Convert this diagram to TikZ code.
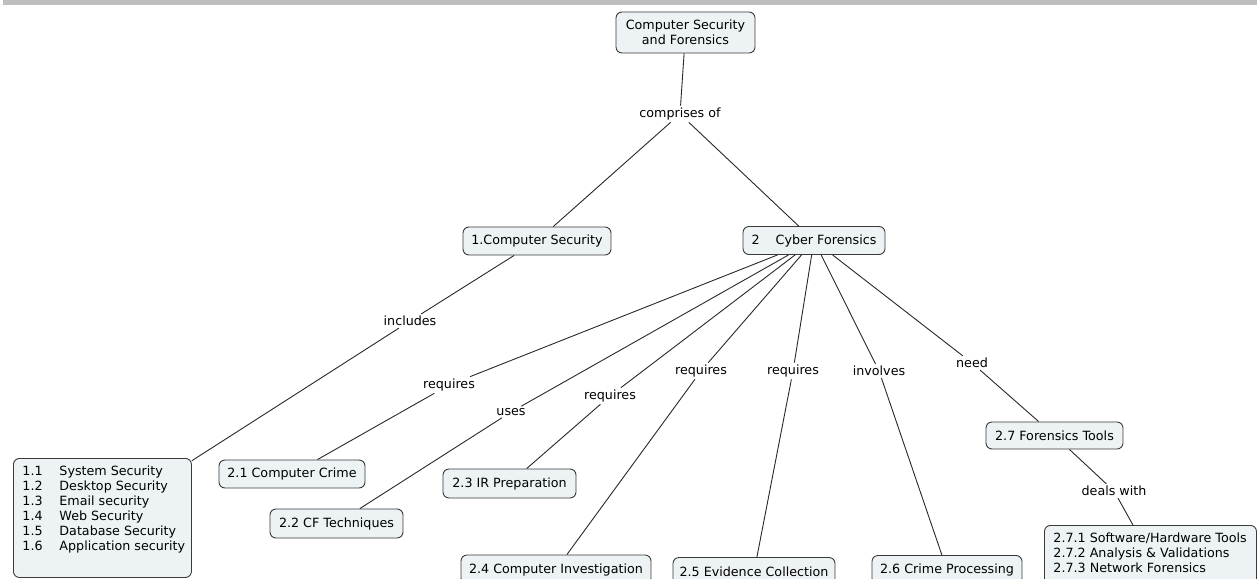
\documentclass[tikz,border=0pt]{standalone}
\usepackage{fontspec}
\setmainfont{DejaVu Sans}
\definecolor{boxfill}{RGB}{237,243,245}
\definecolor{boxline}{RGB}{58,58,58}
\definecolor{linkline}{RGB}{40,40,40}
\definecolor{bargray}{RGB}{190,190,190}
\newcommand{\cmfont}{\fontsize{12.7}{15}\selectfont}
\newcommand{\numitem}[2]{\mbox{\makebox[37pt][l]{#1}#2}}
\begin{document}
\begin{tikzpicture}[x=1pt,y=-1pt,
  concept/.style={draw=boxline, fill=boxfill, rounded corners=6pt, line width=0.9pt,
    minimum height=28pt, inner sep=0pt, font=\cmfont, align=center},
  listbox/.style={concept, anchor=north west, align=left, inner xsep=9pt, inner ysep=7pt},
  linkword/.style={inner sep=2pt, font=\cmfont},
  conn/.style={draw=linkline, line width=0.9pt}]
\useasboundingbox (0,0) rectangle (1257,578);
\clip (0,0) rectangle (1257,578);

% header strip
\fill[bargray] (3,0) rectangle (1257,5);

% concepts
\node[concept, minimum width=139pt, minimum height=41pt] (root) at (685.5,32.5)
  {Computer Security\\and Forensics};
\node[concept, minimum width=148pt] (cs) at (537,241) {1.Computer Security};
\node[concept, minimum width=142pt] (cf) at (814,240.5) {2\hspace*{16pt}Cyber Forensics};

\node[listbox, minimum width=178pt, minimum height=119pt] (cslist) at (13,458)
  {\parbox[c][105pt][t]{160pt}{\raggedright
    \numitem{1.1}{System Security}\\
    \numitem{1.2}{Desktop Security}\\
    \numitem{1.3}{Email security}\\
    \numitem{1.4}{Web Security}\\
    \numitem{1.5}{Database Security}\\
    \numitem{1.6}{Application security}}};

\node[concept, minimum width=146pt] (crime) at (292,474) {2.1 Computer Crime};
\node[concept, minimum width=133pt, minimum height=29pt] (tech) at (336.5,523.5) {2.2 CF Techniques};
\node[concept, minimum width=133pt, minimum height=29pt] (irprep) at (509.5,483.5) {2.3 IR Preparation};
\node[concept, minimum width=190pt, minimum height=29pt] (invest) at (556,569.5) {2.4 Computer Investigation};
\node[concept, minimum width=162pt, minimum height=29pt] (evid) at (754,572) {2.5 Evidence Collection};
\node[concept, minimum width=150pt, minimum height=29pt] (proc) at (947,570) {2.6 Crime Processing};
\node[concept, minimum width=137pt, minimum height=27pt] (tools) at (1054.5,435.5) {2.7 Forensics Tools};

\node[listbox, minimum width=212pt, minimum height=62pt] (toollist) at (1044,525)
  {\parbox[c][48pt][t]{194pt}{\raggedright
    \mbox{2.7.1 Software/Hardware Tools}\\
    \mbox{2.7.2 Analysis \& Validations}\\
    \mbox{2.7.3 Network Forensics}}};

% linking phrases
\node[linkword] (comp) at (680,114) {comprises of};
\node[linkword] (incl) at (410,321) {includes};
\node[linkword] (reqA) at (449,385) {requires};
\node[linkword] (uses) at (511,412) {uses};
\node[linkword] (reqB) at (610,396) {requires};
\node[linkword] (reqC) at (701,371) {requires};
\node[linkword] (reqD) at (793,371) {requires};
\node[linkword] (invl) at (879,371) {involves};
\node[linkword] (need) at (972,363) {need};
\node[linkword] (deal) at (1114,491) {deals with};

% connectors
\draw[conn] (root) -- (comp);
\draw[conn] (comp) -- (cs);
\draw[conn] (comp) -- (cf);
\draw[conn] (cs) -- (incl) -- (cslist);
\draw[conn] (cf) -- (reqA) -- (crime);
\draw[conn] (cf) -- (uses) -- (tech);
\draw[conn] (cf) -- (reqB) -- (irprep);
\draw[conn] (cf) -- (reqC) -- (invest);
\draw[conn] (cf) -- (reqD) -- (evid);
\draw[conn] (cf) -- (invl) -- (proc);
\draw[conn] (cf) -- (need) -- (tools);
\draw[conn] (tools) -- (deal) -- (toollist);
\end{tikzpicture}
\end{document}
